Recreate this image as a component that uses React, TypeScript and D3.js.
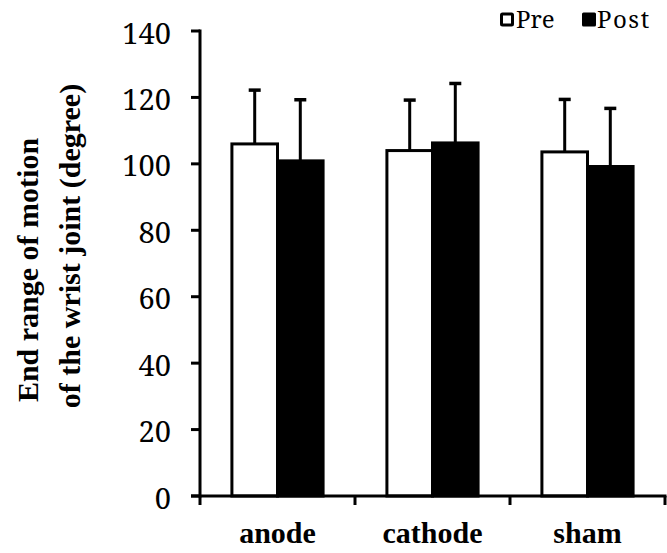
import React from "react";
import * as d3 from "d3";

const categories = ["anode", "cathode", "sham"];
const seriesNames = ["Pre", "Post"];
const preValues = [106, 104, 103.6];
const postValues = [100.9, 106.3, 99.2];
const preErrTop = [122.2, 119.2, 119.4];
const postErrTop = [119.3, 124.2, 116.7];
const yTicks = [0, 20, 40, 60, 80, 100, 120, 140];

const W = 667;
const H = 553;
const left = 200;
const right = 665;
const top = 31;
const bottom = 496;

export default function App() {
  const x = d3.scaleBand<string>().domain(categories).range([left, right]).padding(0);
  const inner = d3
    .scaleBand<string>()
    .domain(seriesNames)
    .range([0, x.bandwidth()])
    .paddingInner(0)
    .paddingOuter(0.7);
  const y = d3.scaleLinear().domain([0, 140]).range([bottom, top]);

  const rows = categories.map((c, i) => ({
    c,
    vals: [
      { s: "Pre", v: preValues[i], e: preErrTop[i] },
      { s: "Post", v: postValues[i], e: postErrTop[i] },
    ],
  }));

  const bw = inner.bandwidth();
  const times = "'Liberation Serif', 'Times New Roman', serif";
  const schola = "'Noto Serif', serif";

  return (
    <svg width={W} height={H} style={{ position: "absolute", left: 0, top: 0, background: "#fff" }}>
      <rect x={0} y={0} width={W} height={H} fill="#fff" />
      {/* bars */}
      {rows.map((r) =>
        r.vals.map((d) => {
          const bx = (x(r.c) as number) + (inner(d.s) as number);
          const cx = bx + bw / 2;
          return (
            <g key={r.c + d.s}>
              <line x1={cx} x2={cx} y1={y(d.v)} y2={y(d.e)} stroke="#000" strokeWidth={3} />
              <line x1={cx - 6} x2={cx + 6} y1={y(d.e)} y2={y(d.e)} stroke="#000" strokeWidth={3.5} />
              <rect
                x={bx}
                y={y(d.v)}
                width={bw}
                height={bottom - y(d.v)}
                fill={d.s === "Pre" ? "#fff" : "#000"}
                stroke="#000"
                strokeWidth={3}
              />
            </g>
          );
        })
      )}
      {/* y axis */}
      <line x1={left} x2={left} y1={top - 1.5} y2={bottom + 1.5} stroke="#000" strokeWidth={3} />
      {yTicks.map((t) => (
        <g key={t}>
          <line x1={left - 9} x2={left} y1={y(t)} y2={y(t)} stroke="#000" strokeWidth={3} />
          <text
            x={171}
            y={y(t) + 1}
            textAnchor="end"
            dominantBaseline="central"
            fontFamily={schola}
            fontSize={29}
            fill="#000"
          >
            {t}
          </text>
        </g>
      ))}
      {/* x axis */}
      <line x1={left - 9} x2={right + 1.5} y1={bottom} y2={bottom} stroke="#000" strokeWidth={3} />
      {[...categories.map((c) => x(c) as number), right].map((p, i) => (
        <line key={i} x1={p} x2={p} y1={bottom} y2={bottom + 9} stroke="#000" strokeWidth={3} />
      ))}
      {categories.map((c) => (
        <text
          key={c}
          x={(x(c) as number) + x.bandwidth() / 2}
          y={543}
          textAnchor="middle"
          fontFamily={times}
          fontWeight="bold"
          fontSize={30}
          fill="#000"
        >
          {c}
        </text>
      ))}
      {/* y title */}
      <text
        transform="translate(38,270) rotate(-90)"
        textAnchor="middle"
        fontFamily={times}
        fontWeight="bold"
        fontSize={30}
        fill="#000"
      >
        End range of motion
      </text>
      <text
        transform="translate(80,246) rotate(-90)"
        textAnchor="middle"
        fontFamily={times}
        fontWeight="bold"
        fontSize={30}
        fill="#000"
      >
        of the wrist joint (degree)
      </text>
      {/* legend */}
      <rect x={501.5} y={14} width={11} height={11} fill="#fff" stroke="#000" strokeWidth={3} rx={1} />
      <text x={516} y={27.5} fontFamily={schola} fontSize={24} fill="#000">
        {seriesNames[0]}
      </text>
      <rect x={582} y={12.5} width={14} height={14} fill="#000" rx={1.5} />
      <text x={597} y={27.5} fontFamily={schola} fontSize={24} letterSpacing={1.5} fill="#000">
        {seriesNames[1]}
      </text>
    </svg>
  );
}
